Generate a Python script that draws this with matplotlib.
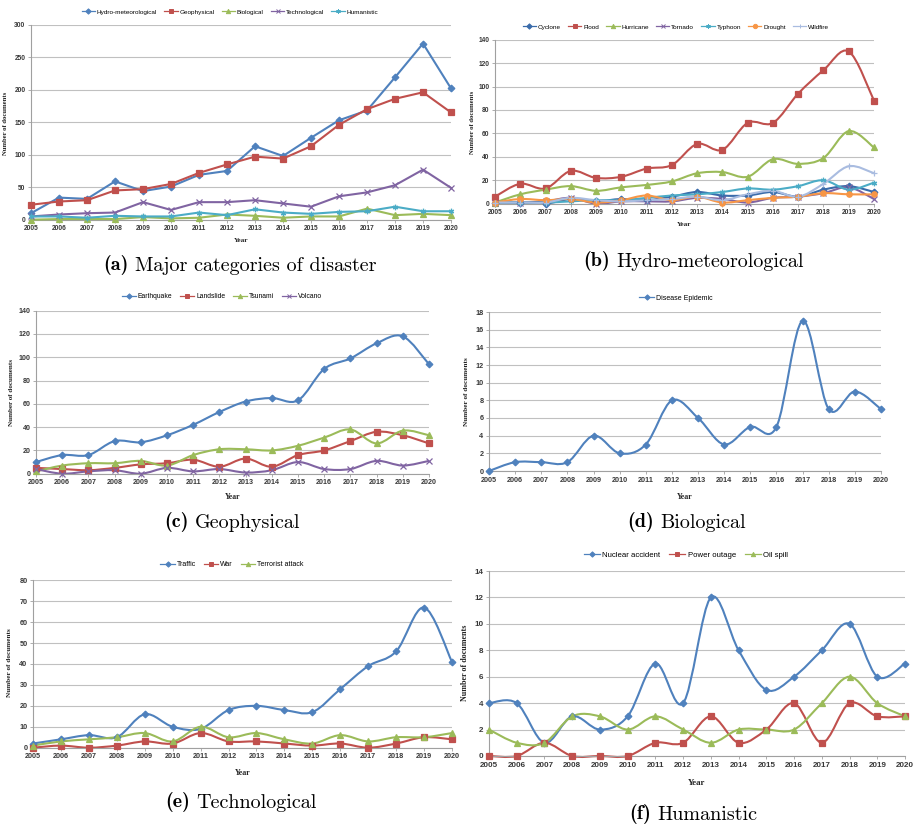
import numpy as np
import matplotlib
matplotlib.use('Agg')
import matplotlib.pyplot as plt
from matplotlib.path import Path
from matplotlib.patches import PathPatch
from matplotlib.lines import Line2D

# ---- data ----
years = list(range(2005, 2021))

# (a) major categories
hydro_met = [10, 34, 32, 59, 44, 51, 69, 75, 113, 98, 126, 153, 168, 219, 271, 202]
geophysical = [23, 28, 30, 45, 47, 55, 72, 85, 97, 94, 113, 146, 170, 186, 196, 165]
biological = [0, 1, 1, 1, 4, 2, 3, 8, 6, 3, 5, 5, 17, 7, 9, 7]
technological = [5, 8, 10, 11, 27, 15, 27, 27, 30, 25, 20, 36, 42, 53, 77, 49]
humanistic = [5, 5, 3, 6, 5, 5, 11, 7, 16, 11, 9, 12, 13, 20, 13, 13]

# (b) hydro-meteorological
cyclone = [1, 1, 0, 4, 2, 4, 3, 6, 10, 7, 7, 10, 6, 12, 15, 10]
flood = [6, 17, 13, 28, 22, 23, 30, 33, 51, 46, 69, 69, 94, 114, 130, 88]
hurricane = [1, 8, 12, 15, 11, 14, 16, 19, 26, 27, 23, 38, 34, 39, 62, 48]
tornado = [1, 1, 2, 5, 0, 2, 2, 2, 5, 4, 1, 5, 6, 9, 14, 4]
typhoon = [1, 1, 1, 2, 3, 3, 5, 7, 8, 10, 13, 12, 15, 20, 12, 18]
drought = [1, 4, 3, 4, 1, 3, 7, 3, 6, 1, 3, 5, 6, 9, 8, 8]
wildfire = [1, 1, 1, 5, 3, 2, 3, 4, 6, 3, 8, 11, 6, 17, 32, 26]

# (c) geophysical
earthquake = [10, 16, 16, 28, 27, 33, 42, 53, 62, 65, 63, 90, 99, 112, 118, 94]
landslide = [5, 4, 3, 5, 8, 9, 12, 6, 13, 6, 16, 20, 28, 36, 33, 26]
tsunami = [2, 7, 9, 9, 11, 7, 16, 21, 21, 20, 24, 31, 38, 26, 37, 33]
volcano = [4, 0, 2, 3, 0, 5, 2, 4, 1, 3, 10, 4, 4, 11, 7, 11]

# (d) biological
disease_epidemic = [0, 1, 1, 1, 4, 2, 3, 8, 6, 3, 5, 5, 17, 7, 9, 7]

# (e) technological
traffic = [2, 4, 6, 5, 16, 10, 9, 18, 20, 18, 17, 28, 39, 46, 67, 41]
war = [0, 1, 0, 1, 3, 2, 7, 3, 3, 2, 1, 2, 0, 2, 5, 4]
terrorist = [1, 3, 4, 5, 7, 3, 10, 5, 7, 4, 2, 6, 3, 5, 5, 7]

# (f) humanistic
nuclear = [4, 4, 1, 3, 2, 3, 7, 4, 12, 8, 5, 6, 8, 10, 6, 7]
power_outage = [0, 0, 1, 0, 0, 0, 1, 1, 3, 1, 2, 4, 1, 4, 3, 3]
oil_spill = [2, 1, 1, 3, 3, 2, 3, 2, 1, 2, 2, 2, 4, 6, 4, 3]

# excel-like palette and markers
BLUE, RED, GREEN, PURPLE, TEAL, ORANGE, LBLUE = ('#4F81BD', '#C0504D', '#9BBB59', '#8064A2',
                                                 '#4BACC6', '#F79646', '#A9BCE0')
DKBLUE = '#3A6BAA'
MARKERS = ['D', 's', '^', 'x', (6, 2, 0), 'o', '+']

W, H = 916, 824
fig = plt.figure(figsize=(W / 100, H / 100), dpi=100)


def smooth_path(x, y):
    # catmull-rom style bezier, similar to Excel's smoothed line
    x = np.asarray(x, float)
    y = np.asarray(y, float)
    n = len(x)
    verts = [(x[0], y[0])]
    codes = [Path.MOVETO]
    for i in range(n - 1):
        a = i - 1 if i > 0 else i
        b = i + 2 if i + 2 < n else i + 1
        c1 = (x[i] + (x[i + 1] - x[a]) / 6, y[i] + (y[i + 1] - y[a]) / 6)
        c2 = (x[i + 1] - (x[b] - x[i]) / 6, y[i + 1] - (y[b] - y[i]) / 6)
        verts += [c1, c2, (x[i + 1], y[i + 1])]
        codes += [Path.CURVE4] * 3
    return Path(verts, codes)


def px_rect(x0, x1, ytop, ybot):
    return [x0 / W, 1 - ybot / H, (x1 - x0) / W, (ybot - ytop) / H]


def panel(rect, series, names, colors, ymax, ystep, smooth, fs, leg_xy, year_y, ylab_xy,
          xmax=2020):
    ax = fig.add_axes(rect)
    handles = []
    for k, (vals, name, col) in enumerate(zip(series, names, colors)):
        m = MARKERS[k]
        ms = 3.4 if m == 'D' else 3.9
        if smooth:
            ax.add_patch(PathPatch(smooth_path(years, vals), facecolor='none', edgecolor=col,
                                   lw=1.5, transform=ax.transData, clip_on=False, zorder=2))
            ax.plot(years, vals, ls='none', marker=m, ms=ms, color=col, mew=0.9,
                    clip_on=False, zorder=3)
        else:
            ax.plot(years, vals, marker=m, ms=ms, color=col, lw=1.5, mew=0.9,
                    clip_on=False, zorder=3)
        handles.append(Line2D([0], [0], color=col, marker=m, ms=ms * 0.8, lw=0.9, mew=0.7))
    ax.set_xlim(2005, xmax)
    ax.set_ylim(0, ymax)
    ax.set_xticks(years)
    ax.set_xticklabels([str(y) for y in years])
    ax.set_yticks(np.arange(0, ymax + 1, ystep))
    ax.grid(axis='y', color='#C0C0C0', lw=0.8)
    ax.set_axisbelow(True)
    for s in ['top', 'right']:
        ax.spines[s].set_visible(False)
    for s in ['left', 'bottom']:
        ax.spines[s].set_color('#A0A0A0')
        ax.spines[s].set_linewidth(0.8)
    ax.tick_params(length=2, width=0.6, color='#A0A0A0', pad=2, labelsize=fs,
                   labelcolor='#383838')
    for lab in ax.get_xticklabels() + ax.get_yticklabels():
        lab.set_fontfamily('Liberation Sans')
        lab.set_fontweight('bold')
    fig.legend(handles, names, loc='center', bbox_to_anchor=(leg_xy[0] / W, 1 - leg_xy[1] / H),
               ncol=len(names), frameon=False, prop={'family': 'Liberation Sans', 'size': fs - 0.2},
               handlelength=2.1, handletextpad=0.3, columnspacing=1.1)
    cx = rect[0] + rect[2] / 2
    fig.text(cx, 1 - year_y / H, 'Year', ha='center', va='center', fontsize=fs + 0.5,
             fontweight='bold', family='Liberation Serif', color='#222222')
    fig.text(ylab_xy[0] / W, 1 - ylab_xy[1] / H, 'Number of documents', rotation=90,
             ha='center', va='center', fontsize=fs, fontweight='bold',
             family='Liberation Serif', color='#222222')
    return ax


def caption(x, y, tag, text):
    t = fig.text(x / W, 1 - y / H, tag, family='cmb10', fontsize=14.5, ha='left',
                 va='baseline')
    ann = plt.annotate(text, xy=(1, 0), xycoords=t, xytext=(4.5, 0), textcoords='offset points',
                       family='cmr10', fontsize=14.5, ha='left', va='bottom',
                       annotation_clip=False)
    return ann


# (a)
panel(px_rect(31, 451, 24.7, 219.7),
      [hydro_met, geophysical, biological, technological, humanistic],
      ['Hydro-meteorological', 'Geophysical', 'Biological', 'Technological', 'Humanistic'],
      [BLUE, RED, GREEN, PURPLE, TEAL], 300, 50, False, 4.8, (230, 12), 241, (6, 123))
# (b)
panel(px_rect(495, 874, 39.7, 203.7),
      [cyclone, flood, hurricane, tornado, typhoon, drought, wildfire],
      ['Cyclone', 'Flood', 'Hurricane', 'Tornado', 'Typhoon', 'Drought', 'Wildfire'],
      [DKBLUE, RED, GREEN, PURPLE, TEAL, ORANGE, LBLUE], 140, 20, True, 4.8, (676, 27), 225,
      (473, 122))
# (c)
panel(px_rect(36, 429, 310.7, 473.7),
      [earthquake, landslide, tsunami, volcano],
      ['Earthquake', 'Landslide', 'Tsunami', 'Volcano'],
      [BLUE, RED, GREEN, PURPLE], 140, 20, True, 5.1, (222, 297), 497, (12, 392))
# (d)
panel(px_rect(489, 881, 312, 471),
      [disease_epidemic], ['Disease Epidemic'], [BLUE], 18, 2, True, 5.2, (676, 298), 497,
      (466, 392))
# (e)
panel(px_rect(33, 452, 580.3, 747.7),
      [traffic, war, terrorist], ['Traffic', 'War', 'Terrorist attack'],
      [BLUE, RED, GREEN], 80, 10, True, 5.2, (232, 565), 773, (10, 663))
# (f)
panel(px_rect(489, 905, 571, 756),
      [nuclear, power_outage, oil_spill], ['Nuclear accident', 'Power outage', 'Oil spill'],
      [BLUE, RED, GREEN], 14, 2, True, 5.8, (686, 555), 783, (465, 663))

caption(103, 270, '(a)', 'Major categories of disaster')
caption(583, 266, '(b)', 'Hydro-meteorological')
caption(164, 527, '(c)', 'Geophysical')
caption(627, 527, '(d)', 'Biological')
caption(165, 807, '(e)', 'Technological')
caption(629, 819, '(f)', 'Humanistic')

fig.savefig('out.png', dpi=100)
